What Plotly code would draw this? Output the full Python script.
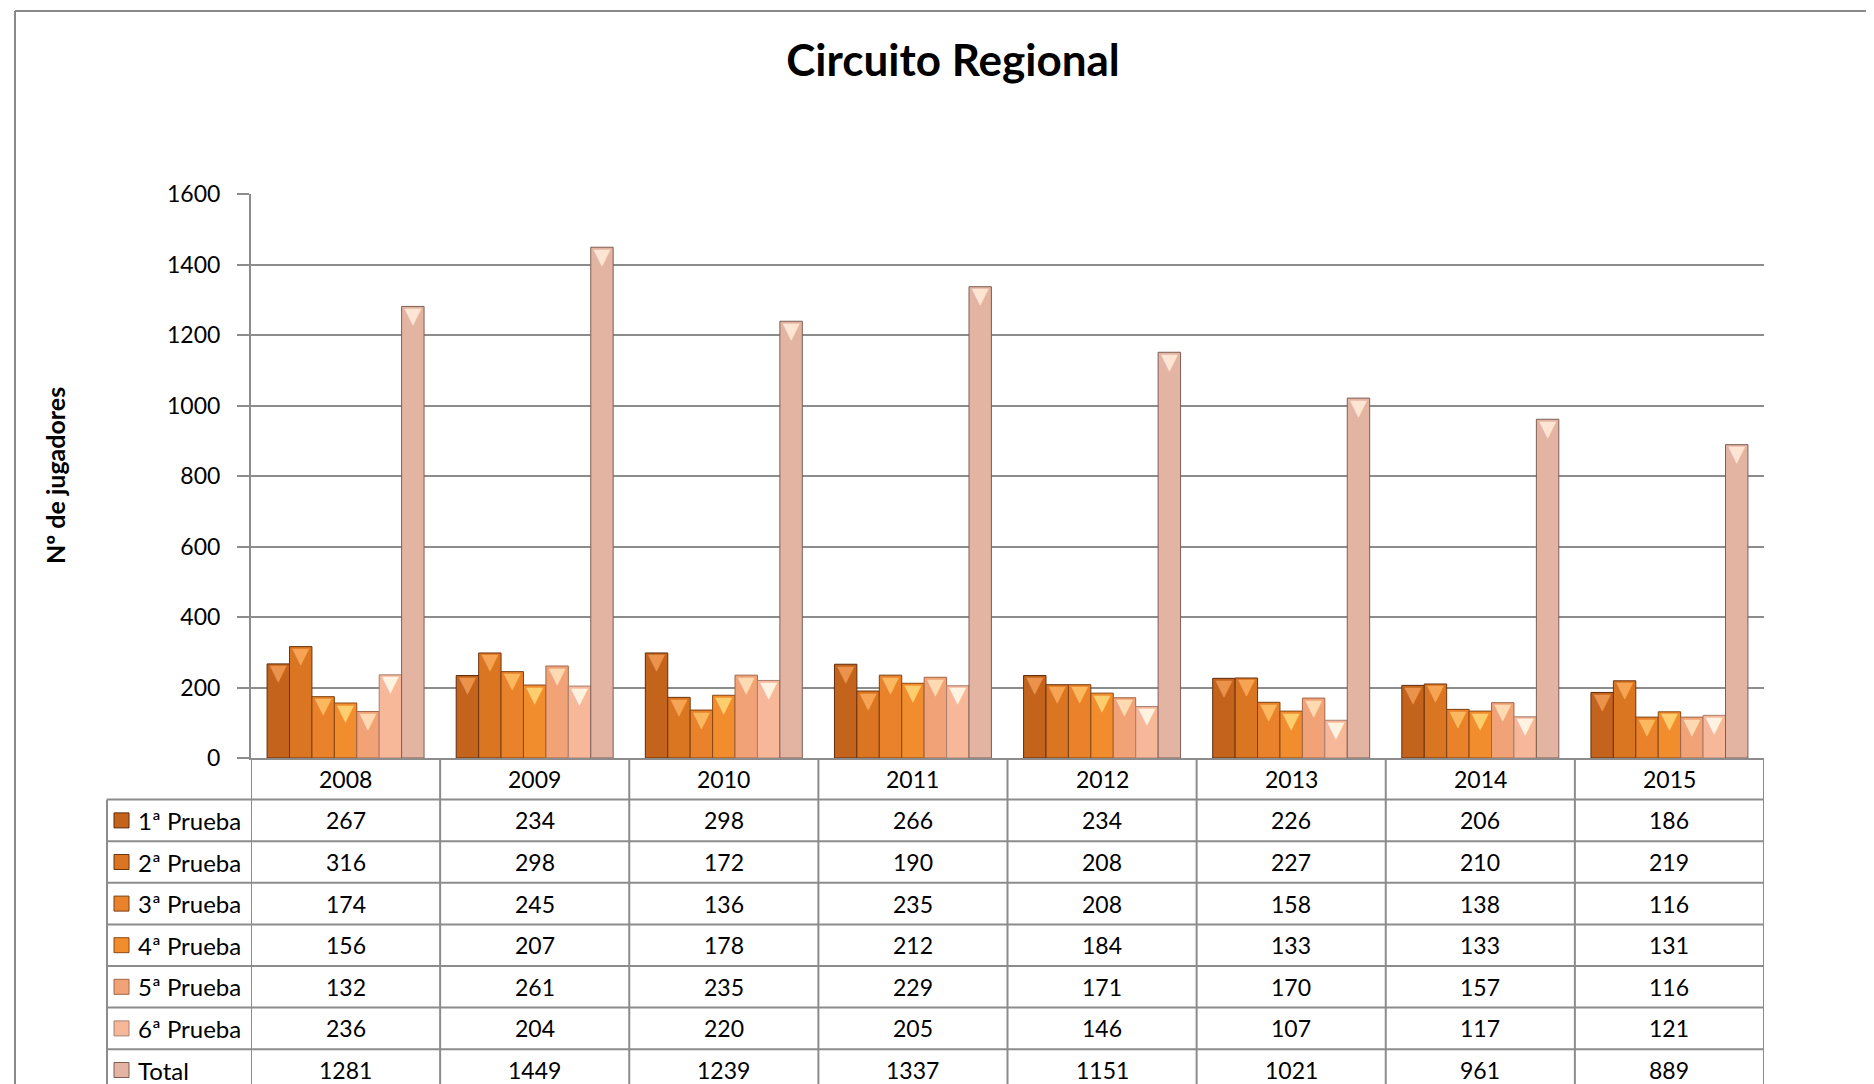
import plotly.graph_objects as go

# ---------------- data ----------------
years = ["2008", "2009", "2010", "2011", "2012", "2013", "2014", "2015"]
series_names = ["1ª Prueba", "2ª Prueba", "3ª Prueba", "4ª Prueba", "5ª Prueba", "6ª Prueba", "Total"]
prueba1 = [267, 234, 298, 266, 234, 226, 206, 186]
prueba2 = [316, 298, 172, 190, 208, 227, 210, 219]
prueba3 = [174, 245, 136, 235, 208, 158, 138, 116]
prueba4 = [156, 207, 178, 212, 184, 133, 133, 131]
prueba5 = [132, 261, 235, 229, 171, 170, 157, 116]
prueba6 = [236, 204, 220, 205, 146, 107, 117, 121]
total = [1281, 1449, 1239, 1337, 1151, 1021, 961, 889]
y_ticks = [0, 200, 400, 600, 800, 1000, 1200, 1400, 1600]

series_values = [prueba1, prueba2, prueba3, prueba4, prueba5, prueba6, total]

# ---------------- styles ----------------
bar_colors = ["#C4641C", "#DA7521", "#E9822A", "#F28D2E", "#F2A277", "#F7B799", "#E4B4A3"]
hi_colors = ["rgba(238,150,80,0.95)", "rgba(248,168,88,0.95)", "rgba(253,188,98,0.95)",
             "rgba(255,210,115,0.95)", "rgba(255,222,182,0.95)", "rgba(255,246,230,0.95)",
             "rgba(255,232,215,0.95)"]
edge_colors = ["#5E2C0C", "#6E3410", "#7E4012", "#8A4816", "#A0664A", "#A98070", "#7E5E54"]
GRID = "#8C8C8C"
FONT = "Lato"

# page has an 8px body margin: the figure is placed at (8, 8) in the page
OFF = 8
PAGE_W, PAGE_H = 1874, 1084
W, H = PAGE_W - OFF, PAGE_H - OFF
PLOT_L, PLOT_R, PLOT_T, PLOT_B = 251, 1764, 194, 758      # page pixels
L, R, T, B = PLOT_L - OFF, W - (PLOT_R - OFF), PLOT_T - OFF, H - (PLOT_B - OFF)
PW = PLOT_R - PLOT_L
PH = PLOT_B - PLOT_T


def px(X):
    return (X - PLOT_L) / PW


def py(Y):
    return (PLOT_B - Y) / PH


ROW0 = PLOT_B          # bottom of plot area (x axis line)
ROWH = 41.6            # table row height

fig = go.Figure()

for i, (name, vals) in enumerate(zip(series_names, series_values)):
    fig.add_trace(go.Bar(
        x=years, y=vals, name=name, offsetgroup=str(i),
        marker=dict(color=bar_colors[i], line=dict(color=edge_colors[i], width=1)),
        showlegend=False, hoverinfo="x+y+name",
    ))
for i, (name, vals) in enumerate(zip(series_names, series_values)):
    fig.add_trace(go.Scatter(
        x=years, y=vals, offsetgroup=str(i), mode="text",
        text=["▼"] * len(vals), textposition="bottom center",
        textfont=dict(family="DejaVu Sans", size=22, color=hi_colors[i]),
        showlegend=False, hoverinfo="skip",
    ))

shapes = []
annotations = []
line_style = dict(color=GRID, width=2)

# vertical lines of the data table (category boundaries)
for j in range(len(years) + 1):
    shapes.append(dict(type="line", xref="x", yref="paper", x0=j - 0.5, x1=j - 0.5,
                       y0=py(ROW0), y1=py(PAGE_H + 20), line=line_style, layer="above"))
# left border of the table
shapes.append(dict(type="line", xref="paper", yref="paper", x0=px(107), x1=px(107),
                   y0=py(ROW0 + ROWH), y1=py(PAGE_H + 20), line=line_style))
# horizontal lines of the table
for k in range(1, len(series_names) + 2):
    yy = ROW0 + ROWH * k
    shapes.append(dict(type="line", xref="paper", yref="paper", x0=px(107), x1=1,
                       y0=py(yy), y1=py(yy), line=line_style))

# year header row
for ci, yr in enumerate(years):
    annotations.append(dict(x=ci, y=py(ROW0 + ROWH / 2), xref="x", yref="paper",
                            text=yr, showarrow=False, xanchor="center", yanchor="middle",
                            font=dict(family=FONT, size=23, color="#000000")))

# series rows
for i, (name, vals) in enumerate(zip(series_names, series_values)):
    yc = ROW0 + ROWH * (i + 1.5)
    shapes.append(dict(type="rect", xref="paper", yref="paper",
                       x0=px(114), x1=px(129), y0=py(yc - 7.5), y1=py(yc + 7.5),
                       fillcolor=bar_colors[i], line=dict(color=edge_colors[i], width=1)))
    annotations.append(dict(x=px(136), y=py(yc), xref="paper", yref="paper",
                            text=name, showarrow=False, xanchor="left", yanchor="middle",
                            font=dict(family=FONT, size=24, color="#000000")))
    for ci, v in enumerate(vals):
        annotations.append(dict(x=ci, y=py(yc), xref="x", yref="paper",
                                text=str(v), showarrow=False, xanchor="center", yanchor="middle",
                                font=dict(family=FONT, size=23, color="#000000")))

# y axis title
annotations.append(dict(x=px(55), y=py(476), xref="paper", yref="paper",
                        text="<b>Nº de jugadores</b>", textangle=-90, showarrow=False,
                        xanchor="center", yanchor="middle",
                        font=dict(family=FONT, size=25, color="#000000")))

# outer chart frame
shapes.append(dict(type="line", xref="paper", yref="paper", x0=px(15), x1=px(15),
                   y0=py(11), y1=py(PAGE_H + 20), line=dict(color="#8A8A8A", width=2)))
shapes.append(dict(type="line", xref="paper", yref="paper", x0=px(15), x1=px(PAGE_W + 20),
                   y0=py(11), y1=py(11), line=dict(color="#8A8A8A", width=2)))

fig.update_layout(
    width=W, height=H,
    margin=dict(l=L, r=R, t=T, b=B, pad=0),
    paper_bgcolor="white", plot_bgcolor="white",
    barmode="group", bargap=0.17, bargroupgap=0,
    scattermode="group", scattergap=0.17,
    title=dict(text="<b>Circuito Regional</b>", x=(953 - OFF) / W, xref="container",
               xanchor="center", y=1 - (61 - OFF) / H, yref="container", yanchor="middle",
               font=dict(family=FONT, size=44, color="#000000")),
    xaxis=dict(type="category", showticklabels=False, ticks="", showgrid=False,
               showline=True, linecolor=GRID, linewidth=2, zeroline=False,
               range=[-0.5, len(years) - 0.5]),
    yaxis=dict(range=[0, 1600], tickvals=y_ticks, ticktext=[str(t) for t in y_ticks],
               showgrid=True, gridcolor=GRID, gridwidth=2,
               showline=True, linecolor=GRID, linewidth=2, zeroline=False,
               ticks="outside", ticklen=12, tickwidth=2, tickcolor=GRID,
               ticklabelstandoff=12,
               tickfont=dict(family=FONT, size=23, color="#000000")),
    shapes=shapes, annotations=annotations,
    font=dict(family=FONT),
)

fig.write_html("out.html")
